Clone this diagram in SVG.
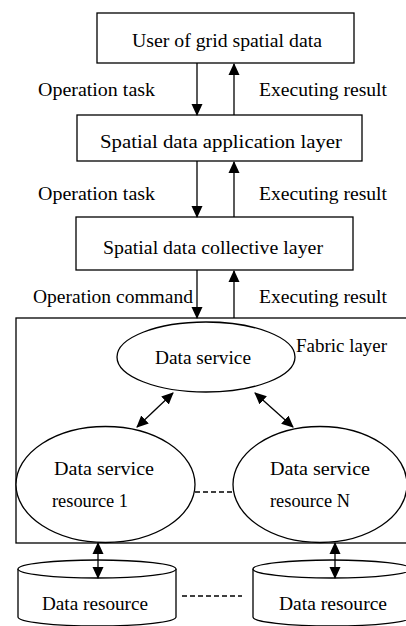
<svg xmlns="http://www.w3.org/2000/svg" width="406" height="626" viewBox="0 0 406 626">
<style>
.b{fill:#fff;stroke:#000;stroke-width:1.3}
.l{fill:none;stroke:#000;stroke-width:1.3}
.d{fill:none;stroke:#000;stroke-width:1.3;stroke-dasharray:5 3}
text{font-family:"Liberation Serif","Times New Roman",serif;font-size:19px;fill:#000}
</style>
<defs>
<marker id="ah" viewBox="0 0 12 12" refX="11" refY="6" markerWidth="12" markerHeight="12" markerUnits="userSpaceOnUse" orient="auto-start-reverse">
<path d="M0,0.5 L12,6 L0,11.5 Z" fill="#000"/>
</marker>
</defs>
<g id="user"><rect class="b" x="97" y="13" width="257" height="50"/><text x="227" y="47" text-anchor="middle" textLength="190" lengthAdjust="spacingAndGlyphs">User of grid spatial data</text></g>
<g id="app"><rect class="b" x="77" y="115" width="285" height="46"/><text x="221" y="148" text-anchor="middle" textLength="242" lengthAdjust="spacingAndGlyphs">Spatial data application layer</text></g>
<g id="coll"><rect class="b" x="76" y="217" width="277" height="53"/><text x="213" y="254" text-anchor="middle" textLength="220" lengthAdjust="spacingAndGlyphs">Spatial data collective layer</text></g>
<g id="fabric"><rect class="b" x="16" y="318" width="400" height="225"/><text x="296" y="352" textLength="91" lengthAdjust="spacingAndGlyphs">Fabric layer</text></g>
<g id="ds"><ellipse class="b" cx="206" cy="357" rx="89" ry="35"/><text x="203" y="364" text-anchor="middle" textLength="96" lengthAdjust="spacingAndGlyphs">Data service</text></g>
<g id="dsr1"><ellipse class="b" cx="105.5" cy="484.5" rx="89.5" ry="58"/><text x="104" y="475" text-anchor="middle" textLength="100" lengthAdjust="spacingAndGlyphs">Data service</text><text x="90" y="507" text-anchor="middle" textLength="76" lengthAdjust="spacingAndGlyphs">resource 1</text></g>
<g id="dsrN"><ellipse class="b" cx="320" cy="484.5" rx="87" ry="58"/><text x="320" y="475" text-anchor="middle" textLength="100" lengthAdjust="spacingAndGlyphs">Data service</text><text x="310" y="507" text-anchor="middle" textLength="80" lengthAdjust="spacingAndGlyphs">resource N</text></g>
<g id="dr1"><path class="b" d="M18,569 L18,617 A79,9 0 0 0 176,617 L176,569"/><ellipse class="b" cx="97" cy="569" rx="79" ry="9"/><text x="95" y="610" text-anchor="middle" textLength="106" lengthAdjust="spacingAndGlyphs">Data resource</text></g>
<g id="drN"><path class="b" d="M253,569 L253,617 A79,9 0 0 0 411,617 L411,569"/><ellipse class="b" cx="332" cy="569" rx="79" ry="9"/><text x="333" y="610" text-anchor="middle" textLength="108" lengthAdjust="spacingAndGlyphs">Data resource</text></g>
<g id="labels">
<text x="38" y="96" textLength="117" lengthAdjust="spacingAndGlyphs">Operation task</text>
<text x="259" y="96" textLength="128" lengthAdjust="spacingAndGlyphs">Executing result</text>
<text x="38" y="200" textLength="117" lengthAdjust="spacingAndGlyphs">Operation task</text>
<text x="259" y="200" textLength="128" lengthAdjust="spacingAndGlyphs">Executing result</text>
<text x="33" y="303" textLength="160" lengthAdjust="spacingAndGlyphs">Operation command</text>
<text x="259" y="303" textLength="128" lengthAdjust="spacingAndGlyphs">Executing result</text>
</g>
<g id="connectors">
<line class="l" x1="197" y1="63" x2="197" y2="115" marker-end="url(#ah)"/>
<line class="l" x1="234" y1="115" x2="234" y2="64" marker-end="url(#ah)"/>
<line class="l" x1="197" y1="161" x2="197" y2="217" marker-end="url(#ah)"/>
<line class="l" x1="234" y1="217" x2="234" y2="162" marker-end="url(#ah)"/>
<line class="l" x1="197" y1="270" x2="197" y2="318" marker-end="url(#ah)"/>
<line class="l" x1="234" y1="318" x2="234" y2="271" marker-end="url(#ah)"/>
<line class="l" x1="173" y1="393" x2="137" y2="427" marker-start="url(#ah)" marker-end="url(#ah)"/>
<line class="l" x1="255" y1="393" x2="293" y2="427" marker-start="url(#ah)" marker-end="url(#ah)"/>
<line class="l" x1="98" y1="543" x2="98" y2="578" marker-start="url(#ah)" marker-end="url(#ah)"/>
<line class="l" x1="335" y1="543" x2="335" y2="578" marker-start="url(#ah)" marker-end="url(#ah)"/>
<line class="d" x1="195" y1="492" x2="233" y2="492"/>
<line class="d" x1="182" y1="596" x2="242" y2="596"/>
</g>
</svg>
